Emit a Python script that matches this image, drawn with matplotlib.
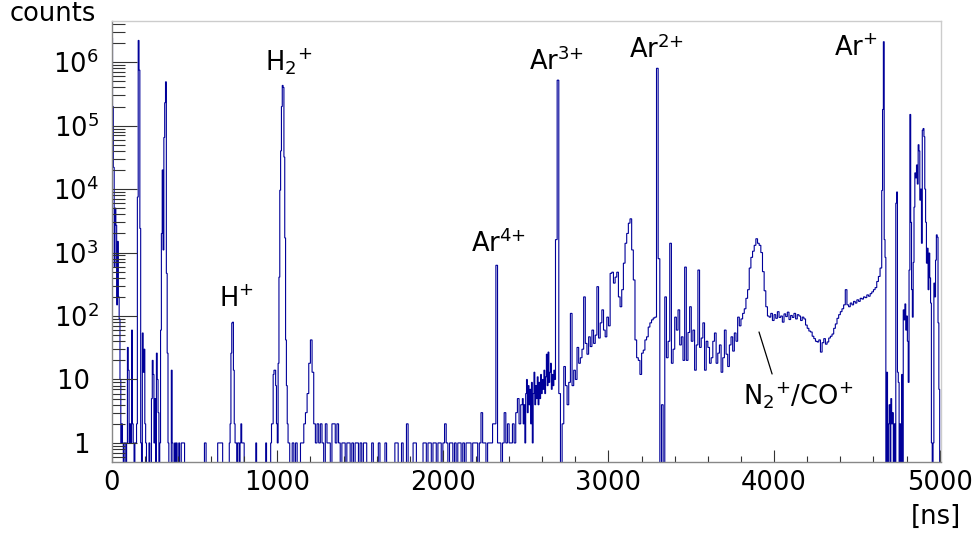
import numpy as np
import matplotlib
matplotlib.use("Agg")
import matplotlib.pyplot as plt
from matplotlib.ticker import FixedLocator, MultipleLocator, LogLocator, NullFormatter

# ---------------- data (time of flight histogram, counts per bin) ----------------
# segment: 0 - 420 ns, 5 ns bins
seg1_start_ns, seg1_width_ns = 0, 5
seg1_counts = [2.4e6, 2.0e5, 2.2e4, 600, 5000, 2700, 150, 1500, 200, 90,
               10, 1, 2, 1, 0, 1, 1, 0, 1, 32,
               14, 1, 2, 1, 60, 2, 1, 0, 1, 1,
               2, 7500, 2.2e6, 7.5e5, 2400, 1, 0, 54, 13, 30,
               2, 1, 0, 0, 0, 1, 0, 0, 5, 20,
               12, 1, 5, 0, 26, 10, 3, 0, 1, 60,
               2000, 2.0e4, 1100, 6.5e4, 2.3e5, 4.9e5, 470, 26, 1, 0,
               0, 0, 14, 1, 0, 0, 1, 0, 1, 0,
               0, 1, 0, 0]
# segment: 420 - 700 ns, 10 ns bins
seg2a_start_ns, seg2a_width_ns = 420, 10
seg2a_counts = [1, 1, 0, 0, 0, 0, 0, 0, 0, 0,
                0, 0, 0, 0, 1, 0, 0, 0, 0, 0,
                0, 0, 1, 1, 1, 0, 0, 0]
# segment: 700 - 1080 ns, 5 ns bins (H+, H2+)
seg2b_start_ns, seg2b_width_ns = 700, 5
seg2b_counts = [0, 0, 1, 2, 26, 78, 80, 14, 2, 1,
                1, 0, 1, 1, 0, 1, 2, 1, 1, 1,
                0, 0, 0, 0, 0, 0, 0, 0, 0, 0,
                0, 0, 0, 0, 1, 0, 0, 0, 0, 0,
                0, 0, 0, 0, 0, 0, 1, 0, 0, 0,
                0, 0, 1, 2, 2, 12, 14, 14, 8, 2,
                1, 18, 410, 9600, 4.0e4, 2.0e5, 4.3e5, 4.0e5, 3.2e4, 1700,
                42, 8, 2, 1, 1, 0]
# segment: 1080 - 2480 ns, 10 ns bins (Ar4+)
seg2c_start_ns, seg2c_width_ns = 1080, 10
seg2c_counts = [0, 1, 0, 1, 0, 0, 1, 1, 2, 3,
                6, 18, 42, 13, 2, 1, 2, 1, 2, 1,
                0, 2, 1, 1, 0, 2, 2, 1, 2, 1,
                0, 1, 1, 0, 1, 1, 0, 1, 0, 1,
                1, 0, 1, 0, 1, 1, 0, 0, 0, 1,
                0, 0, 0, 1, 0, 0, 0, 1, 0, 0,
                0, 0, 0, 1, 1, 0, 0, 1, 0, 0,
                2, 0, 0, 0, 1, 1, 0, 0, 0, 0,
                1, 1, 0, 1, 1, 0, 1, 1, 0, 1,
                1, 0, 1, 2, 1, 0, 1, 1, 0, 1,
                0, 1, 1, 0, 1, 0, 1, 1, 1, 0,
                1, 1, 1, 0, 1, 3, 1, 1, 0, 1,
                1, 1, 2, 2, 630, 1, 1, 0, 1, 3,
                1, 2, 1, 1, 2, 1, 3, 5, 2, 4]
# segment: 2480 - 2680 ns, 5 ns bins (rising background)
seg3a_start_ns, seg3a_width_ns = 2480, 5
seg3a_counts = [5, 2, 4, 1, 6, 10, 3, 8, 4, 7,
                2, 9, 1, 6, 13, 4, 8, 5, 11, 4,
                9, 5, 12, 6, 10, 7, 14, 6, 11, 25,
                8, 27, 9, 13, 18, 7, 12, 8, 14, 10]
# segment: 2680 - 4650 ns, 10 ns bins (Ar3+, Ar2+, N2+/CO+)
seg3b_start_ns, seg3b_width_ns = 2680, 10
seg3b_counts = [1600, 5.2e5, 6, 0, 2, 16, 8, 4, 9, 110,
                8, 14, 10, 32, 18, 22, 30, 200, 37, 25,
                47, 33, 60, 37, 50, 290, 45, 78, 125, 60,
                47, 96, 70, 470, 490, 330, 410, 490, 200, 140,
                260, 680, 1400, 2000, 2900, 3400, 1100, 370, 42, 22,
                20, 12, 26, 29, 42, 47, 67, 78, 87, 93,
                96, 8.0e5, 800, 0, 4, 0, 200, 22, 40, 1400,
                18, 30, 96, 60, 125, 35, 47, 20, 590, 20,
                55, 140, 40, 60, 14, 35, 530, 32, 45, 78,
                14, 40, 32, 18, 22, 40, 54, 18, 26, 35,
                13, 22, 60, 25, 16, 35, 47, 28, 54, 40,
                96, 70, 90, 110, 130, 190, 260, 570, 840, 1050,
                1300, 1650, 1400, 1300, 1000, 500, 250, 140, 100, 96,
                110, 85, 105, 92, 117, 95, 100, 80, 108, 98,
                115, 88, 102, 95, 110, 90, 105, 100, 85, 96,
                90, 72, 64, 58, 56, 48, 44, 40, 39, 42,
                27, 38, 44, 36, 39, 45, 48, 52, 64, 75,
                92, 105, 117, 130, 150, 260, 150, 140, 160, 150,
                170, 160, 180, 170, 190, 185, 200, 195, 215, 205,
                225, 240, 260, 280, 350, 420, 570]
# segment: 4650 - 5010 ns, 5 ns bins (Ar+)
seg4_start_ns, seg4_width_ns = 4650, 5
seg4_counts = [9500, 1.8e5, 2.1e6, 1600, 840, 0, 13, 0, 2, 4,
               0, 5, 2, 3, 0, 2, 0, 6000, 9000, 13,
               9, 0, 2, 0, 12, 0, 125, 87, 155, 60,
               100, 40, 9, 530, 1.5e5, 3000, 260, 96, 700, 5200,
               1.8e4, 1.5e4, 2.4e4, 1.2e4, 5.0e4, 4.0e4, 6700, 1.0e4, 1400, 8.5e4,
               9.0e4, 6.7e4, 1.0e4, 3000, 680, 1170, 260, 980, 400, 160,
               1, 0, 1, 330, 200, 760, 1900, 1750, 78, 7,
               0, 0]

# peak labels
label_texts = ["H$^{{+}}$", "H$_{2}{}^{{+}}$", "Ar$^{4{+}}$", "Ar$^{3{+}}$",
               "Ar$^{2{+}}$", "Ar$^{{+}}$", "N$_{2}{}^{{+}}$/CO$^{{+}}$"]
label_ns = [751, 1071, 2333, 2686, 3290, 4495, 4145]
label_counts = [138, 7.5e5, 1020, 7.5e5, 1.15e6, 1.25e6, 4.1]
leader_from = (3988, 12.2)
leader_to = (3909, 56)

y_tick_values = [1, 10, 1e2, 1e3, 1e4, 1e5, 1e6]
y_tick_labels = ["1 ", "10 ", "10$^{2}$", "10$^{3}$", "10$^{4}$", "10$^{5}$", "10$^{6}$"]
x_tick_values = [0, 1000, 2000, 3000, 4000, 5000]
x_tick_labels = ["0", "1000", "2000", "3000", "4000", "5000"]

# ---------------- build histogram ----------------
segments = [
    (seg1_start_ns, seg1_width_ns, seg1_counts),
    (seg2a_start_ns, seg2a_width_ns, seg2a_counts),
    (seg2b_start_ns, seg2b_width_ns, seg2b_counts),
    (seg2c_start_ns, seg2c_width_ns, seg2c_counts),
    (seg3a_start_ns, seg3a_width_ns, seg3a_counts),
    (seg3b_start_ns, seg3b_width_ns, seg3b_counts),
    (seg4_start_ns, seg4_width_ns, seg4_counts),
]
edges = [float(segments[0][0])]
values = []
for start, width, cts in segments:
    if abs(edges[-1] - start) > 1e-6:
        print("segment mismatch", start, edges[-1])
    edges.extend(start + width * np.arange(1, len(cts) + 1))
    values.extend(cts)
edges = np.array(edges, dtype=float)
values = np.array(values, dtype=float)

# ---------------- figure ----------------
W, H = 972, 534
fig = plt.figure(figsize=(W / 100, H / 100), dpi=100)
ax = fig.add_axes([111.7 / W, 1 - 461.5 / H, (941 - 111.7) / W, (461.5 - 20.7) / H])

ax.set_yscale("log")
ax.stairs(values, edges, baseline=None, fill=False, color="#000099", linewidth=0.8)

ax.set_xlim(0, 5008)
ax.set_ylim(0.51, 4.5e6)

FS = 18.5
for txt, xn, yc in zip(label_texts, label_ns, label_counts):
    ax.text(xn, yc, txt, ha="center", va="baseline", fontsize=FS, color="black")
ax.annotate("", xy=leader_to, xytext=leader_from,
            arrowprops=dict(arrowstyle="-", color="black", lw=0.9, shrinkA=0, shrinkB=0))

# axes styling
ax.yaxis.set_major_locator(FixedLocator(y_tick_values))
ax.set_yticklabels(y_tick_labels)
ax.yaxis.set_minor_locator(LogLocator(base=10, subs=np.arange(2, 10), numticks=30))
ax.yaxis.set_minor_formatter(NullFormatter())
ax.xaxis.set_major_locator(FixedLocator(x_tick_values))
ax.set_xticklabels(x_tick_labels)
ax.xaxis.set_minor_locator(MultipleLocator(200))

ax.tick_params(axis="both", which="both", direction="in", colors="#333333",
               labelcolor="black", labelsize=FS, top=False, right=False)
ax.tick_params(axis="y", which="major", length=18, width=0.8, pad=9.5)
ax.tick_params(axis="y", which="minor", length=9, width=0.8)
ax.tick_params(axis="x", which="major", length=9, width=0.8, pad=6)
ax.tick_params(axis="x", which="minor", length=4.5, width=0.8)

for side in ("left", "bottom"):
    ax.spines[side].set_color("#888888")
    ax.spines[side].set_linewidth(1.0)
for side in ("top", "right"):
    ax.spines[side].set_color("#cccccc")
    ax.spines[side].set_linewidth(1.0)

fig.text(10 / W, 1 - 14 / H, "counts", ha="left", va="center", fontsize=FS)
fig.text(961 / W, 1 - 517 / H, "[ns]", ha="right", va="center", fontsize=FS)

fig.savefig("out.png", dpi=100)
